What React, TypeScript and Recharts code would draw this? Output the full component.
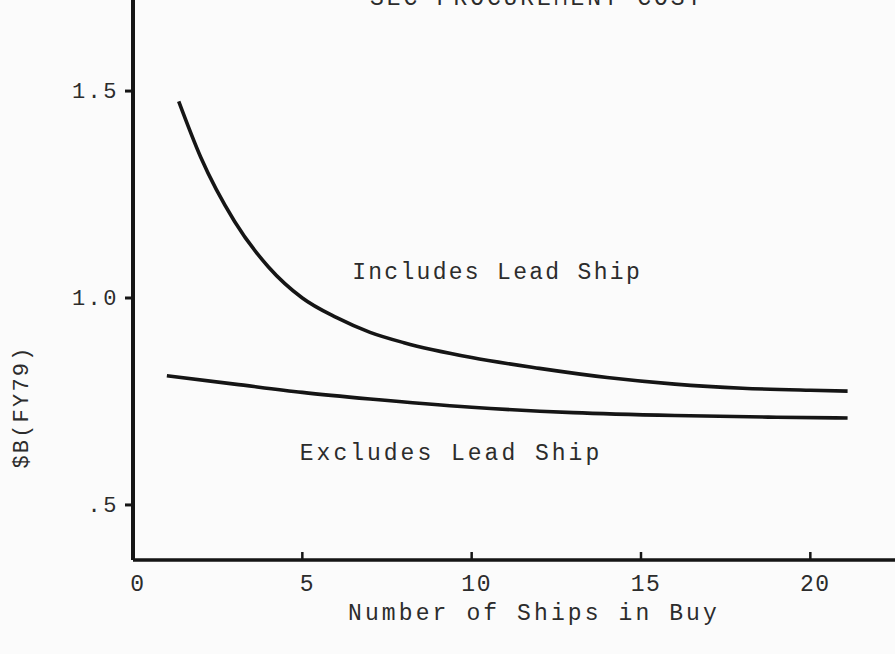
import React from "react";
import { LineChart, Line, XAxis, YAxis, ReferenceDot } from "recharts";

// Includes Lead Ship curve
const incShips = [1.35, 2, 3, 4, 5, 6, 7, 8, 10, 12, 14, 16, 18, 20, 21.1];
const incCost = [1.475, 1.34, 1.185, 1.075, 1.0, 0.953, 0.917, 0.892, 0.856, 0.83, 0.808, 0.792, 0.782, 0.777, 0.775];
// Excludes Lead Ship curve
const excShips = [1, 3, 5, 7, 10, 13, 16, 19, 21.1];
const excCost = [0.812, 0.792, 0.772, 0.756, 0.736, 0.723, 0.716, 0.712, 0.71];

const xTicks = [0, 5, 10, 15, 20];
const yTicks = [0.5, 1.0, 1.5];
const yTickLabels: Record<string, string> = { "0.5": ".5", "1": "1.0", "1.5": "1.5" };

const title = "SEC PROCUREMENT COST";
const xTitle = "Number of Ships in Buy";
const yTitle = "$B(FY79)";
const incLabel = "Includes Lead Ship";
const excLabel = "Excludes Lead Ship";

const incData = incShips.map((x, i) => ({ x, inc: incCost[i] }));
const excData = excShips.map((x, i) => ({ x, exc: excCost[i] }));

const FONT = "'Liberation Mono', 'Courier New', monospace";
const INK = "#151515";
const TXT = "#2c2c2c";

const XTick = (props: any) => {
  const { x, y, payload } = props;
  return (
    <g>
      {payload.value !== 0 && (
        <line x1={x} x2={x} y1={y} y2={y - 8} stroke={INK} strokeWidth={2.5} />
      )}
      <text x={x + 5} y={y + 31} textAnchor="middle" fontFamily={FONT} fontSize={23} letterSpacing={1.5} fill={TXT}>
        {String(payload.value)}
      </text>
    </g>
  );
};

const YTick = (props: any) => {
  const { x, y, payload } = props;
  const lab = yTickLabels[String(payload.value)] ?? String(payload.value);
  return (
    <g>
      <line x1={x - 8} x2={x} y1={y} y2={y} stroke={INK} strokeWidth={3} />
      <text x={x - 14} y={y + 7} textAnchor="end" fontFamily={FONT} fontSize={22} letterSpacing={2.5} fill={TXT}>
        {lab}
      </text>
    </g>
  );
};

export default function App() {
  return (
    <div
      style={{
        position: "absolute",
        left: 0,
        top: 0,
        width: 895,
        height: 654,
        background: "#fbfbfb",
        overflow: "hidden",
      }}
    >
      <div
        style={{
          position: "absolute",
          left: 370,
          top: -12,
          fontFamily: FONT,
          fontSize: 23,
          lineHeight: "23px",
          letterSpacing: 2.9,
          color: TXT,
          whiteSpace: "pre",
        }}
      >
        {title}
      </div>
      <LineChart width={895} height={654} margin={{ top: 0, right: 0, bottom: 0, left: 0 }}>
        <XAxis
          type="number"
          dataKey="x"
          domain={[0, 22.5]}
          ticks={xTicks}
          allowDataOverflow
          height={94}
          tickSize={0}
          tickMargin={0}
          tickLine={false}
          axisLine={{ stroke: INK, strokeWidth: 3.5 }}
          tick={<XTick />}
          label={{
            content: () => (
              <text x={534} y={620} textAnchor="middle" fontFamily={FONT} fontSize={23} letterSpacing={3.1} fill={TXT}>
                {xTitle}
              </text>
            ),
          }}
        />
        <YAxis
          type="number"
          domain={[0.367, 1.72]}
          ticks={yTicks}
          allowDataOverflow
          width={133}
          tickSize={0}
          tickMargin={0}
          tickLine={false}
          axisLine={{ stroke: INK, strokeWidth: 4 }}
          tick={<YTick />}
          label={{
            content: () => (
              <text
                x={28}
                y={407}
                transform="rotate(-90 28 407)"
                textAnchor="middle"
                fontFamily={FONT}
                fontSize={22}
                letterSpacing={2.2}
                fill={TXT}
              >
                {yTitle}
              </text>
            ),
          }}
        />
        <Line
          data={incData}
          dataKey="inc"
          type="monotone"
          stroke={INK}
          strokeWidth={3.6}
          dot={false}
          isAnimationActive={false}
        />
        <Line
          data={excData}
          dataKey="exc"
          type="monotone"
          stroke={INK}
          strokeWidth={3.6}
          dot={false}
          isAnimationActive={false}
        />
        <ReferenceDot
          x={10.75}
          y={1.063}
          r={0}
          label={{
            content: (p: any) => (
              <text x={p.viewBox?.cx ?? p.viewBox?.x} y={(p.viewBox?.cy ?? p.viewBox?.y) + 7} textAnchor="middle" fontFamily={FONT} fontSize={23} letterSpacing={2.3} fill={TXT}>
                {incLabel}
              </text>
            ),
          }}
        />
        <ReferenceDot
          x={9.39}
          y={0.626}
          r={0}
          label={{
            content: (p: any) => (
              <text x={p.viewBox?.cx ?? p.viewBox?.x} y={(p.viewBox?.cy ?? p.viewBox?.y) + 7} textAnchor="middle" fontFamily={FONT} fontSize={23} letterSpacing={3} fill={TXT}>
                {excLabel}
              </text>
            ),
          }}
        />
      </LineChart>
    </div>
  );
}
